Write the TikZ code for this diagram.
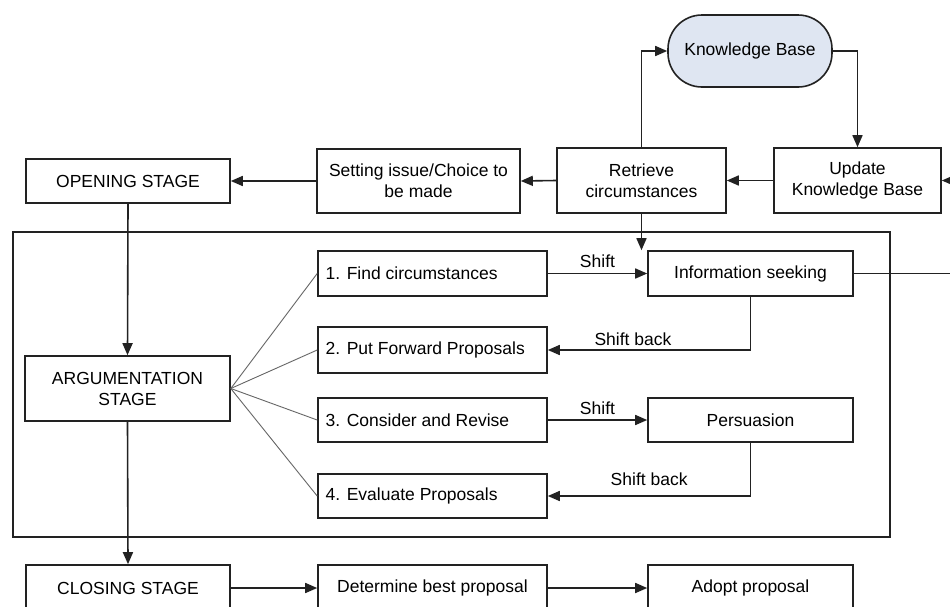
\documentclass[tikz,border=0pt]{standalone}
\usepackage{fontspec}
\setmainfont{Liberation Sans}
\usetikzlibrary{arrows.meta}
\definecolor{kbfill}{HTML}{DFE6F2}
\definecolor{edge}{HTML}{222222}
\begin{document}
\begin{tikzpicture}[x=1pt,y=-1pt,
  every node/.style={font=\fontsize{17.5}{21}\selectfont, text=black},
  box/.style={draw=edge, line width=1.6pt, rectangle, inner sep=2pt, align=center},
  conn/.style={draw=edge, line width=1.6pt, -{Triangle[length=12pt,width=10pt]}},
  plain/.style={draw=edge, line width=1.6pt},
  fan/.style={draw=gray!80!black, line width=0.9pt},
  lbl/.style={inner sep=1pt}
]
\clip (0,0) rectangle (950,606);
\fill[white] (0,0) rectangle (950,606);

% top row
\node[box, fill=kbfill, rounded corners=34pt, minimum width=164pt, minimum height=72pt] (kb) at (750,51) {Knowledge Base};
\node[box, minimum width=169pt, minimum height=65pt] (retr) at (641.5,180.5) {Retrieve\\circumstances};
\node[box, minimum width=167pt, minimum height=65pt] (upd) at (857.5,180.5) {Update\\Knowledge Base};
\node[box, minimum width=203pt, minimum height=64pt] (set) at (418.5,181) {Setting issue/Choice to\\be made};
\node[box, minimum width=204pt, minimum height=44pt] (open) at (128,181) {OPENING STAGE};

% frame
\node[draw=edge, line width=1.6pt, minimum width=877pt, minimum height=305pt] (frame) at (451.5,384.5) {};

% argumentation
\node[box, minimum width=205pt, minimum height=65pt] (arg) at (127.5,388.5) {ARGUMENTATION\\STAGE};
\node[box, minimum width=229pt, minimum height=45pt] (f1) at (432.5,273.5) {};
\node[anchor=west] at (f1.west) {\hspace*{5pt}1. Find circumstances};
\node[box, minimum width=205pt, minimum height=45pt] (info) at (750.5,273.5) {Information seeking};
\node[box, minimum width=229pt, minimum height=46pt] (f2) at (432.5,350) {};
\node[anchor=west] at (f2.west) {\hspace*{5pt}2. Put Forward Proposals};
\node[box, minimum width=229pt, minimum height=44pt] (f3) at (432.5,420) {};
\node[anchor=west] at (f3.west) {\hspace*{5pt}3. Consider and Revise};
\node[box, minimum width=205pt, minimum height=44pt] (pers) at (750.5,420) {Persuasion};
\node[box, minimum width=229pt, minimum height=44pt] (f4) at (432.5,496) {};
\node[anchor=west] at (f4.west) {\hspace*{5pt}4. Evaluate Proposals};

% closing
\node[box, minimum width=204pt, minimum height=46pt] (close) at (128,588) {CLOSING STAGE};
\node[box, minimum width=229pt, minimum height=46pt] (det) at (432.5,588) {Determine best proposal};
\node[box, minimum width=205pt, minimum height=46pt] (adopt) at (750.5,588) {Adopt proposal};

\coordinate (rin) at (960,180.5);
\coordinate (rout) at (960,273.5);

% connectors
\draw[conn] (retr.north) |- (kb.west);
\draw[conn] (kb.east) -| (upd.north);
\draw[conn] (rin) -- (upd.east);
\draw[conn] (upd.west) -- (retr.east);
\draw[conn] (retr.west) -- (set.east);
\draw[conn] (set.west) -- (open.east);
\draw[conn] (open.south) -- (arg.north);
\draw[conn] (retr.south) -- (retr.south |- info.north);
\draw[conn] (f1.east) -- node[lbl, above=4pt] {Shift} (info.west);
\draw[plain] (info.east) -- (rout);
\draw[conn] (info.south) |- node[lbl, pos=0.79, above=3pt] {Shift back} (f2.east);
\draw[conn] (f3.east) -- node[lbl, above=4pt] {Shift} (pers.west);
\draw[conn] (pers.south) |- node[lbl, pos=0.75, above=9pt] {Shift back} (f4.east);
\draw[fan] (arg.east) -- (f1.west);
\draw[fan] (arg.east) -- (f2.west);
\draw[fan] (arg.east) -- (f3.west);
\draw[fan] (arg.east) -- (f4.west);
\draw[conn] (arg.south) -- (close.north);
\draw[conn] (close.east) -- (det.west);
\draw[conn] (det.east) -- (adopt.west);
\end{tikzpicture}
\end{document}
